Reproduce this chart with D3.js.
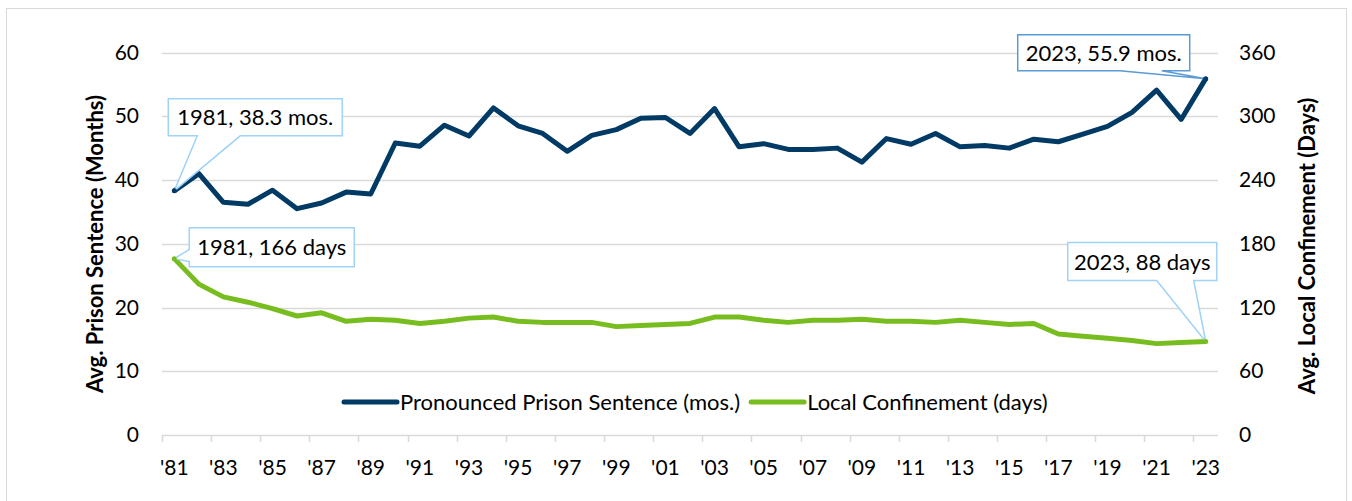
<!DOCTYPE html>
<html>
<head>
<meta charset="utf-8">
<script src="https://cdn.jsdelivr.net/npm/d3@7"></script>
<style>
	body { margin: 0; background: #fff; }
	svg { display: block; font-family: Lato, "Open Sans", sans-serif; }
</style>
</head>
<body>
<svg id="chart" width="1352" height="501"></svg>
<script>
//years 1981..2023
var years = d3.range(1981, 2024);

//avg pronounced prison sentence, months
var prisonMonths = [
	38.3, 41.0, 36.5, 36.2, 38.4, 35.5, 36.4, 38.1, 37.8, 45.8,
	45.3, 48.6, 46.9, 51.3, 48.5, 47.3, 44.5, 47.0, 47.9, 49.7,
	49.8, 47.3, 51.2, 45.2, 45.7, 44.8, 44.8, 45.0, 42.8, 46.5,
	45.6, 47.3, 45.2, 45.4, 45.0, 46.4, 46.0, 47.2, 48.4, 50.6,
	54.1, 49.5, 55.9
];

//avg local confinement, days
var localDays = [
	166, 142, 130, 125, 119, 112, 115, 107, 109, 108,
	105, 107, 110, 111, 107, 106, 106, 106, 102, 103,
	104, 105, 111, 111, 108, 106, 108, 108, 109, 107,
	107, 106, 108, 106, 104, 105, 95, 93, 91, 89,
	86, 87, 88
];

var leftTicks = [0, 10, 20, 30, 40, 50, 60];
var rightTicks = [0, 60, 120, 180, 240, 300, 360];

var seriesNames = ["Pronounced Prison Sentence (mos.)", "Local Confinement (days)"];
var seriesColors = ["#003a65", "#78bd20"];

var svg = d3.select("#chart");

//outer frame
svg.append("rect")
.attr("x", 6.5)
.attr("y", 8.5)
.attr("width", 1340)
.attr("height", 510)
.attr("fill", "none")
.attr("stroke", "#d9d9d9");

var x = d3.scaleBand()
.domain(years)
.range([162, 1218]);

var xc = function(yr){ return x(yr) + x.bandwidth() / 2; };

var yLeft = d3.scaleLinear().domain([0, 60]).range([435, 52.5]);
var yRight = d3.scaleLinear().domain([0, 360]).range([435, 52.5]);

//gridlines
svg.append("g")
.selectAll("line")
.data(leftTicks)
.enter()
.append("line")
.attr("x1", 162)
.attr("x2", 1218)
.attr("y1", function(d){ return Math.round(yLeft(d)) + 0.5; })
.attr("y2", function(d){ return Math.round(yLeft(d)) + 0.5; })
.attr("stroke", "#d9d9d9")
.attr("stroke-width", 1.5);

//left axis labels
var leftAxis = d3.axisLeft(yLeft).tickValues(leftTicks).tickSize(0).tickPadding(0);
var gl = svg.append("g")
.attr("transform", "translate(139,0)")
.call(leftAxis);
gl.select(".domain").remove();
gl.selectAll("text").attr("font-size", 21).attr("font-family", "Lato").attr("fill", "#000");

//right axis labels
var rightAxis = d3.axisRight(yRight).tickValues(rightTicks).tickSize(0).tickPadding(0);
var gr = svg.append("g")
.attr("transform", "translate(1239,0)")
.call(rightAxis);
gr.select(".domain").remove();
gr.selectAll("text").attr("font-size", 21).attr("font-family", "Lato").attr("fill", "#000");

//x tick marks every other category boundary
var boundaries = years.filter(function(d, i){ return i % 2 == 0; });
svg.append("g")
.selectAll("line")
.data(boundaries)
.enter()
.append("line")
.attr("x1", function(d){ return Math.round(x(d)) + 0.5; })
.attr("x2", function(d){ return Math.round(x(d)) + 0.5; })
.attr("y1", 435)
.attr("y2", 442)
.attr("stroke", "#d9d9d9")
.attr("stroke-width", 1.5);

//x labels
svg.append("g")
.selectAll("text")
.data(boundaries)
.enter()
.append("text")
.attr("x", function(d){ return xc(d); })
.attr("y", 475)
.attr("text-anchor", "middle")
.attr("font-size", 21)
.text(function(d){ return "'" + String(d).slice(2); });

//axis titles
svg.append("text")
.attr("transform", "translate(103,244) rotate(-90)")
.attr("text-anchor", "middle")
.attr("font-size", 22)
.attr("font-weight", "bold")
.text("Avg. Prison Sentence (Months)");

svg.append("text")
.attr("transform", "translate(1315,246) rotate(-90)")
.attr("text-anchor", "middle")
.attr("font-size", 22)
.attr("font-weight", "bold")
.text("Avg. Local Confinement (Days)");

//lines
var lineLeft = d3.line()
.x(function(d, i){ return xc(years[i]); })
.y(function(d){ return yLeft(d); });

var lineRight = d3.line()
.x(function(d, i){ return xc(years[i]); })
.y(function(d){ return yRight(d); });

svg.append("path")
.datum(localDays)
.attr("d", lineRight)
.attr("fill", "none")
.attr("stroke", seriesColors[1])
.attr("stroke-width", 5)
.attr("stroke-linejoin", "round");

svg.append("path")
.datum(prisonMonths)
.attr("d", lineLeft)
.attr("fill", "none")
.attr("stroke", seriesColors[0])
.attr("stroke-width", 5)
.attr("stroke-linejoin", "round");

//legend
var legend = svg.append("g").attr("transform", "translate(342,402)");
var lx = 0;
seriesNames.forEach(function(name, i){
	var g = legend.append("g").attr("transform", "translate(" + lx + ",0)");
	g.append("line")
	.attr("x1", 2).attr("x2", 55)
	.attr("stroke", seriesColors[i])
	.attr("stroke-width", 5)
	.attr("stroke-linecap", "round");
	var t = g.append("text")
	.attr("x", 58)
	.attr("y", 8)
	.attr("font-size", 22)
	.text(name);
	lx += 58 + t.node().getComputedTextLength() + 9;
});

//callouts
function callout(px, py, box, side, a, b, label, color){
	var x0 = px + box[0], x1 = px + box[1], y0 = py + box[2], y1 = py + box[3];
	var p = d3.path();
	if(side == "bottom"){
		p.moveTo(x0, y0); p.lineTo(x1, y0); p.lineTo(x1, y1);
		p.lineTo(px + b, y1); p.lineTo(px, py); p.lineTo(px + a, y1);
		p.lineTo(x0, y1); p.closePath();
	} else {
		p.moveTo(x0, y0); p.lineTo(x1, y0); p.lineTo(x1, y1);
		p.lineTo(x0, y1); p.lineTo(x0, py + b); p.lineTo(px, py);
		p.lineTo(x0, py + a); p.closePath();
	}
	svg.append("path")
	.attr("d", p.toString())
	.attr("fill", "#fff")
	.attr("stroke", color)
	.attr("stroke-width", 1.5);
	svg.append("text")
	.attr("x", (x0 + x1) / 2)
	.attr("y", (y0 + y1) / 2 + 8)
	.attr("text-anchor", "middle")
	.attr("font-size", 22)
	.text(label);
}

var n = years.length - 1;
callout(xc(years[0]), yLeft(prisonMonths[0]), [-6, 168, -92, -55], "bottom", 23, 66,
	"1981, " + prisonMonths[0] + " mos.", "#9fd3f7");
callout(xc(years[0]), yRight(localDays[0]), [15, 180, -31, 8], "left", -9, 3,
	"1981, " + localDays[0] + " days", "#9fd3f7");
callout(xc(years[n]), yLeft(prisonMonths[n]), [-188, -16, -44, -8], "bottom", -86, -44,
	"2023, " + prisonMonths[n] + " mos.", "#5b9bd5");
callout(xc(years[n]), yRight(localDays[n]), [-138, 11, -99, -61], "bottom", -49, -12,
	"2023, " + localDays[n] + " days", "#9fd3f7");

//small markers at callout points
[[0, prisonMonths[0], yLeft], [0, localDays[0], yRight], [n, prisonMonths[n], yLeft], [n, localDays[n], yRight]]
.forEach(function(d, i){
	svg.append("circle")
	.attr("cx", xc(years[d[0]]))
	.attr("cy", d[2](d[1]))
	.attr("r", 2.5)
	.attr("fill", i % 2 == 0 ? seriesColors[0] : seriesColors[1]);
});
</script>
</body>
</html>
